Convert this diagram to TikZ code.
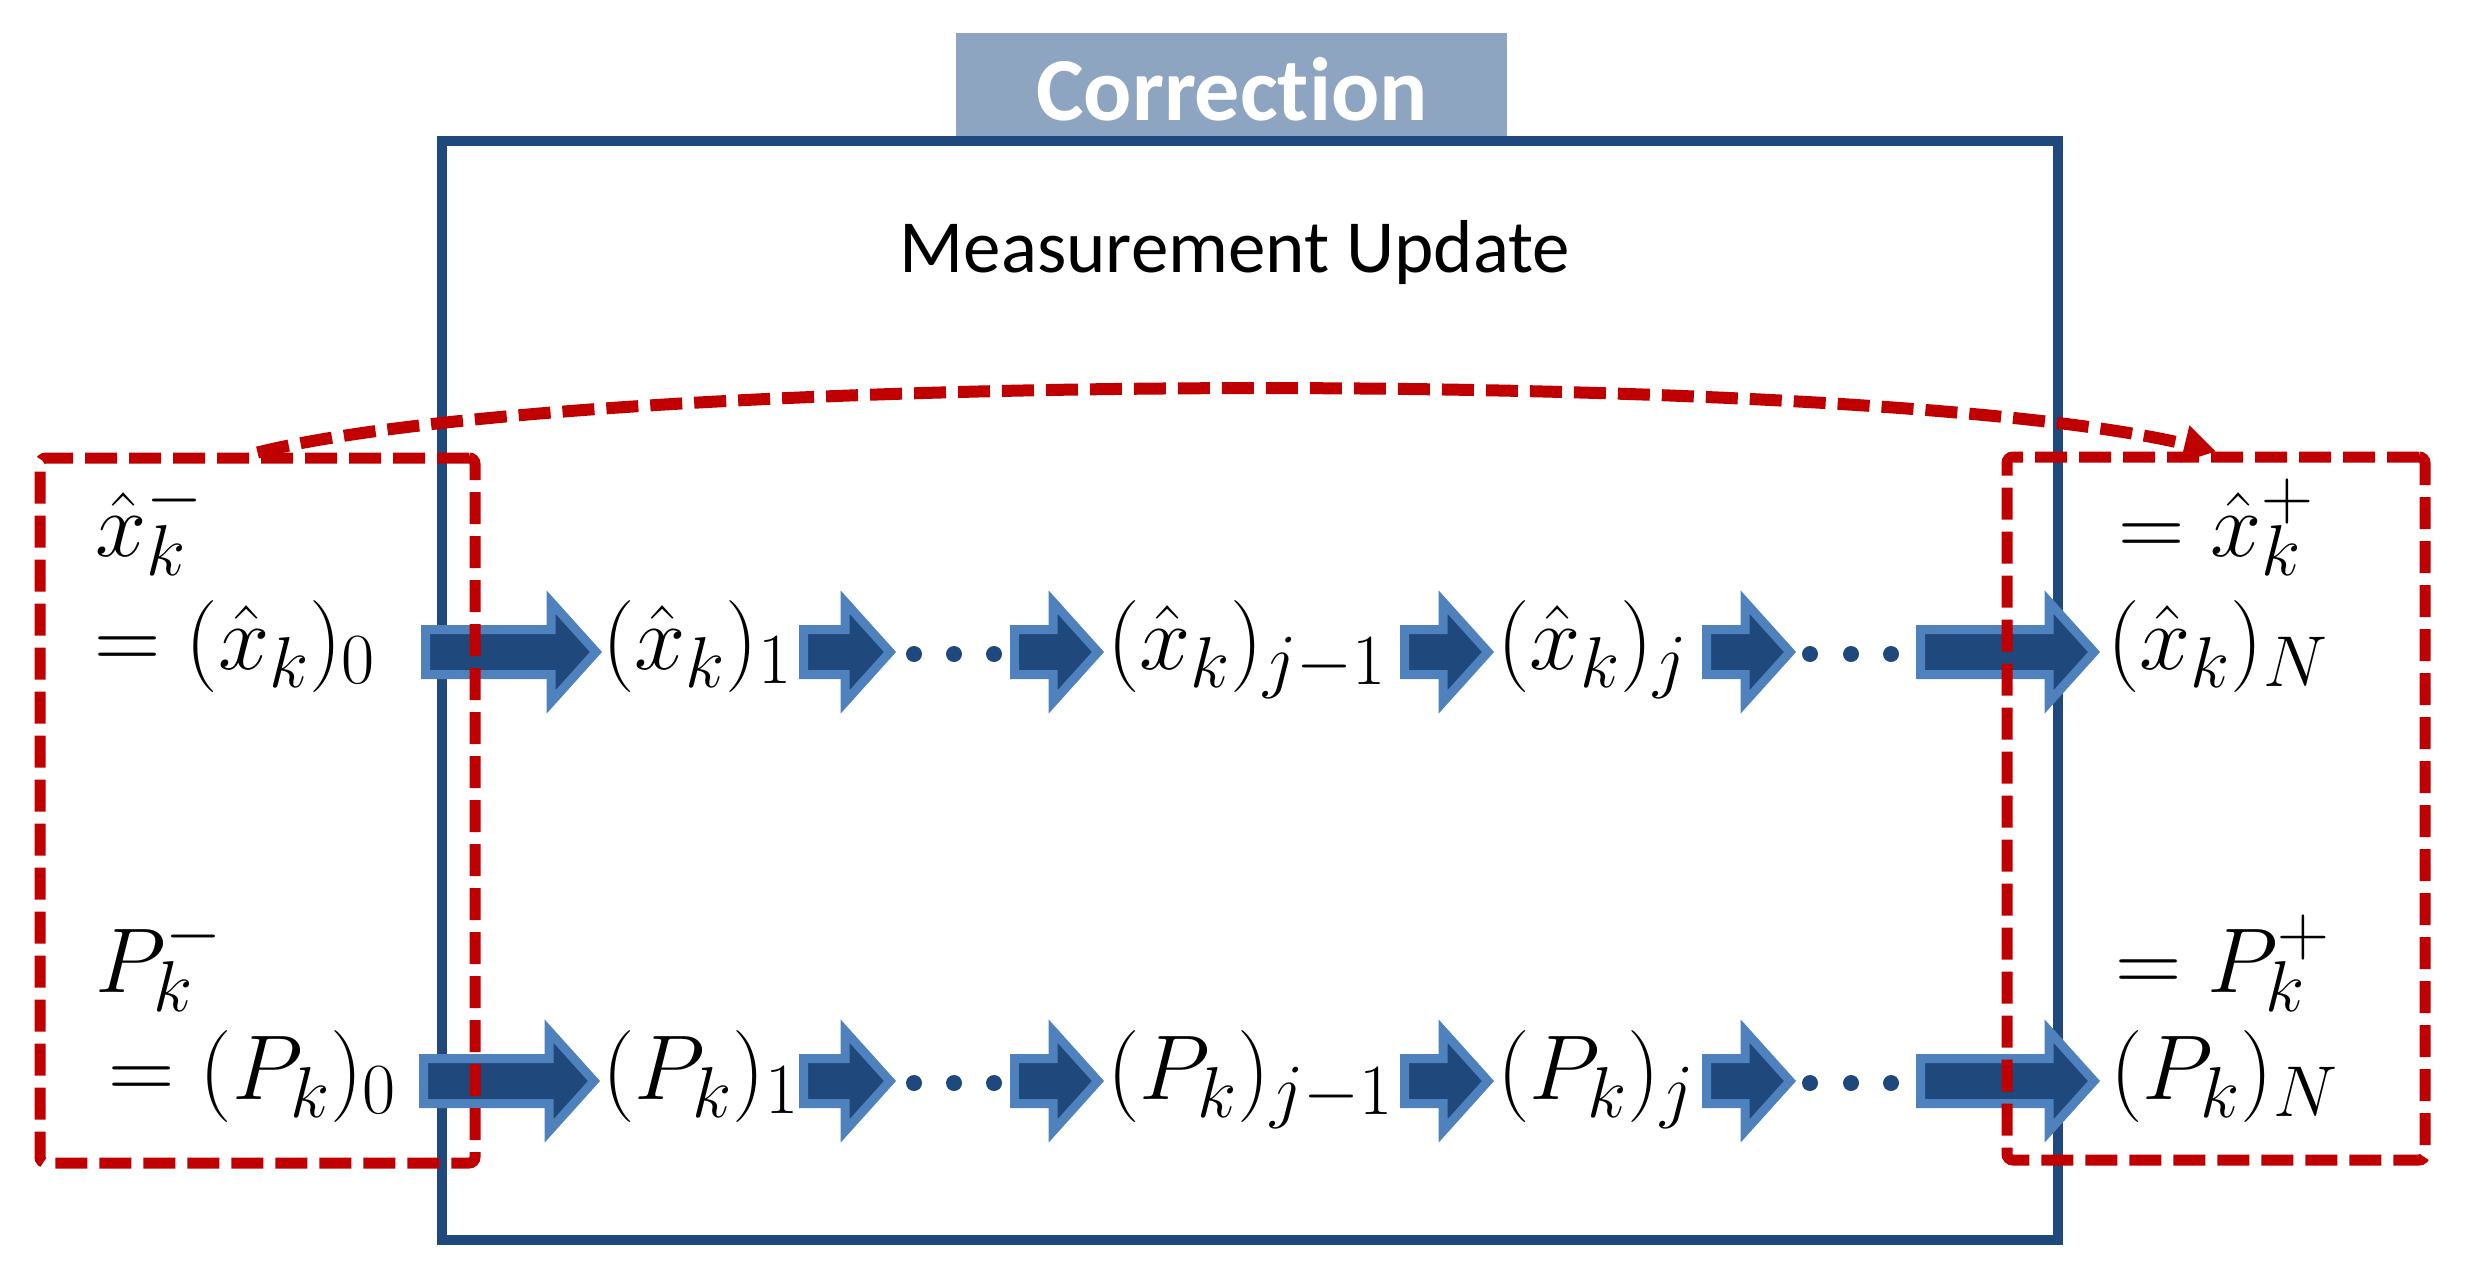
\RequirePackage{fix-cm}
\documentclass[tikz,border=0pt]{standalone}
\usepackage{fontspec}
\newfontfamily\calibfont[Ligatures=NoCommon]{Carlito}
\usetikzlibrary{arrows.meta}
\DeclareMathSizes{92}{92}{72}{58}
\definecolor{redc}{RGB}{192,0,0}
\definecolor{navy}{RGB}{31,73,125}
\definecolor{lblue}{RGB}{79,129,189}
\definecolor{greyblue}{RGB}{142,165,193}
\newcommand{\barrow}[3]{%
  \path[blockarrow] ({#1+4.5},{#3-22.5}) -- ({#2-51},{#3-22.5}) -- ({#2-51},{#3-50})
    -- ({#2-6},{#3}) -- ({#2-51},{#3+50}) -- ({#2-51},{#3+22.5}) -- ({#1+4.5},{#3+22.5}) -- cycle;}
\begin{document}
\begin{tikzpicture}[x=1pt,y=-1pt,
  blockarrow/.style={fill=navy,draw=lblue,line width=9pt,line join=miter},
  redbox/.style={draw=redc,line width=11pt,dash pattern=on 32pt off 12pt,rounded corners=6pt,inner sep=0pt},
  bluebox/.style={draw=navy,line width=10pt,inner sep=0pt},
  mth/.style={anchor=base west,inner sep=0pt,font=\fontsize{92}{100}\selectfont},
  dotc/.style={fill=navy,draw=none}]
\useasboundingbox (0,0) rectangle (2466,1270);
% Correction tab
\node[fill=greyblue,minimum width=551pt,minimum height=108pt,inner sep=0pt] (corr) at (1231.5,87) {};
\node[anchor=base,text=white,font=\calibfont\bfseries\fontsize{90}{100}\selectfont,inner sep=0pt] (corrt) at (1232,120) {Correction};
% Measurement update box
\node[bluebox,minimum width=1616pt,minimum height=1099pt] (mu) at (1250,690.5) {};
\node[anchor=base,font=\calibfont\fontsize{75}{90}\selectfont,inner sep=0pt] (mut) at (1235,272) {Measurement Update};
% block arrows row 1
\barrow{421}{602}{652}
\barrow{799}{896}{652}
\barrow{1010}{1104}{652}
\barrow{1400}{1494}{652}
\barrow{1702}{1796}{652}
\barrow{1916}{2100}{652}
% block arrows row 2
\barrow{419}{600}{1081}
\barrow{799}{896}{1081}
\barrow{1010}{1104}{1081}
\barrow{1400}{1494}{1081}
\barrow{1702}{1796}{1081}
\barrow{1916}{2100}{1081}
% dots
\foreach \dx in {914,954,994,1810,1851,1891}{
  \fill[dotc] (\dx,654) circle (8pt);
  \fill[dotc] (\dx,1083) circle (8pt);
}
% red boxes
\node[redbox,minimum width=435pt,minimum height=705pt] (lbox) at (257.5,810.5) {};
\node[redbox,minimum width=418pt,minimum height=703pt] (rbox) at (2216,808.5) {};
% curved arrow
\draw[draw=redc,line width=12pt,dash pattern=on 32pt off 12pt,
  -{Triangle[length=32pt,width=36pt]}]
  (lbox.north) .. controls (600,368) and (1870,368) .. (rbox.north);
% math labels
\node[mth] (xm) at (95,556) {$\hat{x}_k^-$};
\node[mth] (x0) at (94,669) {$=(\hat{x}_k)_0$};
\node[mth] (x1) at (602,669) {$(\hat{x}_k)_1$};
\node[mth] (xj1) at (1107,669) {$(\hat{x}_k)_{j-1}$};
\node[mth] (xj) at (1497,669) {$(\hat{x}_k)_j$};
\node[mth] (xp) at (2118,556) {$=\hat{x}_k^+$};
\node[mth] (xN) at (2107,669) {$(\hat{x}_k)_N$};
\node[mth] (pm) at (95,992) {$P_k^-$};
\node[mth] (p0) at (108,1099) {$=(P_k)_0$};
\node[mth] (p1) at (602,1099) {$(P_k)_1$};
\node[mth] (pj1) at (1107,1099) {$(P_k)_{j-1}$};
\node[mth] (pj) at (1497,1099) {$(P_k)_j$};
\node[mth] (pp) at (2115,992) {$=P_k^+$};
\node[mth] (pN) at (2110,1099) {$(P_k)_N$};
\end{tikzpicture}
\end{document}
